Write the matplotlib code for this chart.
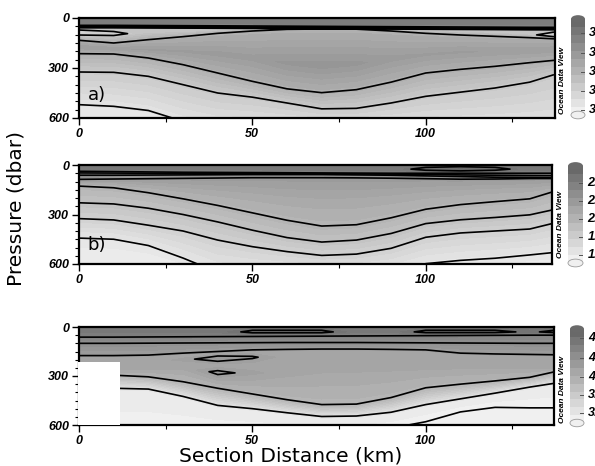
import numpy as np
import matplotlib
matplotlib.use('Agg')
from matplotlib import pyplot as plt
from matplotlib.colors import LinearSegmentedColormap
from matplotlib.patches import Rectangle, Ellipse
from matplotlib.ticker import MultipleLocator

W, H = 595, 466

# station positions along the section (km)
stations = [0, 10, 20, 30, 40, 50, 60, 70, 80, 90, 100, 110, 120, 130, 137]

# ---- panel a): depth (dbar) of each row at every station; value 0 = light .. 1 = dark
a_tc1 = [44, 44, 45, 46, 47, 48, 49, 50, 51, 52, 53, 54, 55, 56, 56]
a_tc2 = [50, 50, 51, 52, 53, 54, 55, 56, 57, 58, 59, 60, 61, 62, 62]
a_tc3 = [56, 56, 57, 58, 59, 60, 61, 62, 63, 64, 65, 66, 67, 68, 68]
a_band_top = [60, 60, 61, 62, 63, 64, 64, 64, 65, 68, 69, 70, 71, 72, 72]
a_band = [88, 95, 92, 88, 78, 70, 66, 65, 66, 72, 80, 86, 92, 100, 105]
a_band_val = [0.22, 0.26, 0.36, 0.36, 0.36, 0.36, 0.36, 0.36, 0.36, 0.36, 0.36, 0.36, 0.36, 0.34, 0.20]
a_upper = [134, 150, 130, 112, 92, 78, 68, 66, 67, 78, 92, 102, 110, 118, 125]
a_core = [175, 185, 190, 200, 215, 240, 270, 285, 275, 245, 220, 205, 200, 195, 190]
a_core_val = [0.60, 0.60, 0.61, 0.61, 0.62, 0.62, 0.65, 0.66, 0.65, 0.62, 0.61, 0.61, 0.60, 0.60, 0.60]
a_inner = [214, 216, 240, 280, 330, 380, 425, 448, 430, 385, 330, 308, 290, 268, 254]
a_outer = [324, 326, 350, 400, 450, 475, 510, 545, 542, 510, 470, 445, 420, 385, 340]
a_deep = [520, 530, 555, 620, 660, 660, 660, 660, 660, 660, 660, 660, 660, 660, 660]
a_isolines = [0.12, 0.30, 0.48, 0.68, 0.74, 0.80]

# ---- panel b)
b_lens_val = [0.86, 0.86, 0.86, 0.86, 0.86, 0.86, 0.86, 0.86, 0.86, 0.86, 0.93, 0.96, 0.93, 0.86, 0.86]
b_tc0 = [38, 40, 42, 44, 45, 46, 47, 48, 49, 50, 50, 50, 50, 50, 50]
b_tc1 = [48, 49, 50, 51, 52, 52, 52, 53, 54, 55, 57, 60, 62, 64, 65]
b_tc2 = [62, 62, 61, 60, 59, 58, 58, 58, 60, 62, 66, 70, 74, 76, 78]
b_tc3 = [87, 85, 83, 81, 79, 77, 77, 77, 78, 80, 83, 86, 85, 82, 82]
b_core = [108, 112, 125, 145, 165, 185, 210, 225, 220, 200, 175, 160, 150, 145, 125]
b_l1 = [128, 138, 168, 205, 245, 290, 335, 370, 362, 320, 268, 240, 222, 205, 160]
b_l2 = [229, 236, 262, 300, 345, 395, 440, 467, 455, 415, 355, 332, 318, 302, 270]
b_l3 = [325, 333, 365, 400, 455, 495, 525, 548, 540, 505, 438, 412, 400, 388, 352]
b_deep = [443, 450, 488, 564, 650, 660, 660, 660, 660, 650, 598, 578, 565, 545, 530]
b_isolines = [0.10, 0.25, 0.35, 0.45, 0.62, 0.72, 0.78, 0.82, 0.90]

# ---- panel c)
c_lens_val = [0.86, 0.86, 0.86, 0.86, 0.86, 0.95, 0.95, 0.95, 0.86, 0.86, 0.95, 0.95, 0.95, 0.90, 0.95]
c_tc1 = [62, 62, 61, 60, 59, 58, 57, 56, 55, 54, 53, 52, 51, 50, 50]
c_tc2 = [100, 100, 99, 98, 97, 96, 95, 95, 95, 96, 97, 98, 99, 100, 100]
c_upper = [175, 175, 172, 160, 150, 140, 137, 135, 135, 137, 140, 160, 165, 168, 170]
c_core1 = [187, 187, 184, 172, 162, 152, 149, 147, 147, 149, 152, 172, 177, 180, 182]
c_core_a = [215, 215, 210, 200, 190, 185, 185, 185, 185, 185, 190, 200, 205, 210, 215]
c_core_a_val = [0.55, 0.55, 0.55, 0.58, 0.64, 0.61, 0.55, 0.55, 0.55, 0.55, 0.55, 0.55, 0.55, 0.55, 0.55]
c_core_m = [235, 235, 230, 225, 235, 235, 235, 230, 225, 220, 215, 220, 222, 225, 230]
c_core_b = [262, 262, 258, 255, 280, 282, 280, 270, 265, 260, 255, 250, 250, 250, 250]
c_core_b_val = [0.54, 0.54, 0.54, 0.54, 0.62, 0.58, 0.55, 0.54, 0.54, 0.54, 0.54, 0.54, 0.54, 0.54, 0.54]
c_inner = [290, 295, 305, 335, 375, 410, 445, 475, 472, 432, 372, 350, 330, 308, 275]
c_outer = [375, 375, 380, 425, 480, 500, 525, 548, 545, 522, 475, 440, 405, 368, 345]
c_white = [390, 390, 395, 440, 495, 515, 540, 563, 560, 537, 490, 455, 420, 385, 360]
c_floor = [640, 640, 640, 640, 640, 640, 640, 640, 640, 620, 580, 520, 492, 495, 495]
c_isolines = [0.03, 0.12, 0.45, 0.60, 0.70, 0.80, 0.92]

# colour bar tick labels (cut by the figure edge, as in the original)
cbar_a_labels = ['3.8', '3.6', '3.4', '3.2', '3.0']
cbar_b_labels = ['2.4', '2.2', '2.0', '1.8', '1.6']
cbar_c_labels = ['4.4', '4.2', '4.0', '3.8', '3.6']

plt.rcParams['font.family'] = 'Liberation Sans'
odv_gray = LinearSegmentedColormap.from_list('odv_gray', ['#f4f4f4', '#666666'])
fill_levels = np.arange(-0.06, 1.09, 0.035)
tick_font = dict(family='Liberation Sans', weight='bold', style='italic', size=9)


def fig_box(left, top, right, bottom):
    return [left / W, 1 - bottom / H, (right - left) / W, (bottom - top) / H]


def build(rows):
    n = len(stations)
    depth = np.array([np.broadcast_to(np.asarray(d, float), n) for d, v in rows])
    value = np.array([np.broadcast_to(np.asarray(v, float), n) for d, v in rows])
    xx = np.tile(np.asarray(stations, float), (len(rows), 1))
    return xx, depth, value


def draw_panel(box, rows, isolines, xmax, letter, letter_depth):
    ax = fig.add_axes(fig_box(*box))
    xx, dd, vv = build(rows)
    ax.contourf(xx, dd, vv, levels=fill_levels, cmap=odv_gray, vmin=0, vmax=1, extend='both')
    ax.contour(xx, dd, vv, levels=isolines, colors='k', linewidths=1.2)
    ax.set_xlim(0, xmax)
    ax.set_ylim(600, 0)
    ax.set_xticks([0, 50, 100])
    ax.set_yticks([0, 300, 600])
    ax.xaxis.set_minor_locator(MultipleLocator(25))
    ax.yaxis.set_minor_locator(MultipleLocator(50))
    ax.tick_params(which='major', length=5, width=1.0, direction='out', pad=2)
    ax.tick_params(which='minor', length=3, width=0.8, direction='out')
    for lbl in ax.get_xticklabels() + ax.get_yticklabels():
        lbl.set(**tick_font)
    for sp in ax.spines.values():
        sp.set_linewidth(1.6)
    ax.text(2.5, letter_depth, letter, family='DejaVu Sans', fontsize=13, va='baseline', ha='left')
    return ax


def draw_colorbar(box, fracs, labels, odv_x, odv_y):
    cax = fig.add_axes(fig_box(*box))
    steps = np.linspace(0.97, 0.03, 12).reshape(-1, 1)
    cax.imshow(steps, cmap=odv_gray, vmin=0, vmax=1, aspect='auto', extent=(0, 1, 0, 1))
    cax.set_xlim(0, 1)
    cax.set_ylim(0, 1)
    cax.axis('off')
    cax.add_patch(Ellipse((0.5, 1.0), 1.0, 0.08, facecolor=odv_gray(0.97), edgecolor='none', clip_on=False))
    cax.add_patch(Ellipse((0.5, 0.0), 1.0, 0.08, facecolor=odv_gray(0.03), edgecolor='#9a9a9a',
                          lw=0.6, clip_on=False, zorder=0))
    for f, lab in zip(fracs, labels):
        y = 1 - f
        cax.plot([0.72, 1.0], [y, y], color='#555555', lw=0.7)
        cax.text(1.3, y, lab, va='center', ha='left', **tick_font)
    fig.text(odv_x / W, 1 - odv_y / H, 'Ocean Data View', rotation=90, ha='center', va='center',
             family='Liberation Sans', weight='bold', style='italic', fontsize=6)


fig = plt.figure(figsize=(W / 100, H / 100), dpi=100)

rows_a = [(0, 0.86), (a_tc1, 0.80), (a_tc2, 0.74), (a_tc3, 0.68), (a_band_top, 0.36),
          (a_band, a_band_val), (a_upper, 0.48), (a_core, a_core_val), (a_inner, 0.48),
          (a_outer, 0.30), (a_deep, 0.12), (720, 0.0)]
rows_b = [(0, 0.86), (25, b_lens_val), (b_tc0, 0.82), (b_tc1, 0.78), (b_tc2, 0.72), (b_tc3, 0.62),
          (b_core, 0.52), (b_l1, 0.45), (b_l2, 0.35), (b_l3, 0.25), (b_deep, 0.10), (720, 0.0)]
rows_c = [(0, 0.86), (30, c_lens_val), (c_tc1, 0.80), (c_tc2, 0.70), (c_upper, 0.60),
          (c_core1, 0.55), (c_core_a, c_core_a_val), (c_core_m, 0.55), (c_core_b, c_core_b_val),
          (c_inner, 0.45), (c_outer, 0.12), (c_white, 0.06), (c_floor, 0.03), (720, 0.0)]

draw_panel((79, 18, 555, 118), rows_a, a_isolines, 137.3, 'a)', 495)
draw_panel((79, 165, 552, 264), rows_b, b_isolines, 136.4, 'b)', 515)
ax_c = draw_panel((79, 327, 554, 425), rows_c, c_isolines, 137.0, 'c)', 535)
# no-data area at the start of section c
ax_c.add_patch(Rectangle((-0.4, 216), 12.2, 381, facecolor='white', edgecolor='none',
                         zorder=3, clip_on=False))

draw_colorbar((571, 19, 585, 115), [0.15, 0.35, 0.55, 0.75, 0.95], cbar_a_labels, 563, 80)
draw_colorbar((568, 166, 583, 263), [0.18, 0.36, 0.55, 0.73, 0.92], cbar_b_labels, 560, 224)
draw_colorbar((570, 329, 584, 423), [0.10, 0.31, 0.51, 0.70, 0.89], cbar_c_labels, 562, 389)

fig.text(21.5 / W, 1 - 208 / H, 'Pressure (dbar)', rotation=90, rotation_mode='anchor',
         ha='center', va='baseline', family='DejaVu Sans', fontsize=14.5)
fig.text(291 / W, 1 - 462 / H, 'Section Distance (km)', ha='center', va='baseline',
         family='DejaVu Sans', fontsize=14.5)

fig.savefig('out.png', dpi=100)
